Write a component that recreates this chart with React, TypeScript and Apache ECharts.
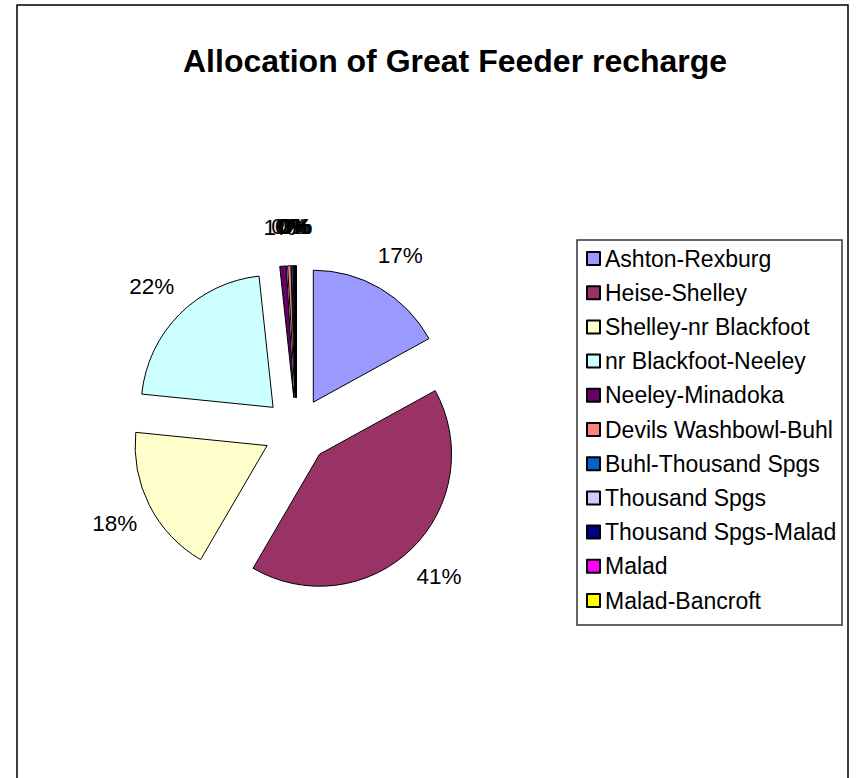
import React, { useEffect, useRef } from "react";
import * as echarts from "echarts";

const titleText = "Allocation of Great Feeder recharge";

const categories = [
  "Ashton-Rexburg",
  "Heise-Shelley",
  "Shelley-nr Blackfoot",
  "nr Blackfoot-Neeley",
  "Neeley-Minadoka",
  "Devils Washbowl-Buhl",
  "Buhl-Thousand Spgs",
  "Thousand Spgs",
  "Thousand Spgs-Malad",
  "Malad",
  "Malad-Bancroft",
];

// share of recharge (percent)
const values = [17.0, 41.4, 18.2, 21.7, 0.8, 0.4, 0.2, 0.1, 0.1, 0.05, 0.05];

const colors = [
  "#9999FF",
  "#993366",
  "#FFFFCC",
  "#CCFFFF",
  "#660066",
  "#FF8080",
  "#0066CC",
  "#CCCCFF",
  "#000080",
  "#FF00FF",
  "#FFFF00",
];

const FONT = "'Liberation Sans', Arial, Helvetica, sans-serif";

export default function App() {
  const ref = useRef<HTMLDivElement>(null);

  useEffect(() => {
    if (!ref.current) return;
    const chart = echarts.init(ref.current, undefined, { renderer: "svg" });

    const pieData = categories.map((name, i) => ({
      name,
      value: values[i],
      selected: true,
      itemStyle: { color: colors[i] },
    }));
    const labelData = categories.map((name, i) => ({
      name,
      value: values[i],
      selected: true,
    }));

    const center = [296.5, 430.6];

    chart.setOption({
      animation: false,
      backgroundColor: "#fff",
      title: {
        text: titleText,
        left: 183,
        top: 45,
        padding: 0,
        textStyle: {
          fontFamily: FONT,
          fontSize: 32,
          fontWeight: "bold",
          color: "#000",
        },
      },
      legend: {
        orient: "vertical",
        left: 586,
        top: 247,
        padding: 0,
        itemGap: 11.2,
        itemWidth: 13,
        itemHeight: 13,
        icon: "rect",
        selectedMode: false,
        data: categories,
        textStyle: {
          fontFamily: FONT,
          fontSize: 23,
          color: "#000",
        },
      },
      graphic: [
        {
          type: "rect",
          shape: { x: 17, y: 5, width: 831, height: 800 },
          style: { fill: "none", stroke: "#000", lineWidth: 1.5 },
          silent: true,
        },
        {
          type: "rect",
          shape: { x: 577, y: 240, width: 265, height: 385 },
          style: { fill: "none", stroke: "#333", lineWidth: 1.5 },
          silent: true,
        },
      ],
      series: [
        {
          type: "pie",
          center,
          radius: [0, 132],
          startAngle: 90,
          clockwise: true,
          selectedMode: "multiple",
          selectedOffset: 33,
          avoidLabelOverlap: false,
          silent: true,
          label: { show: false },
          labelLine: { show: false },
          itemStyle: { borderColor: "#000", borderWidth: 1 },
          select: { itemStyle: { borderColor: "#000", borderWidth: 1 } },
          emphasis: { disabled: true },
          data: pieData,
        },
        {
          type: "pie",
          center,
          radius: [150, 186],
          startAngle: 90,
          clockwise: true,
          selectedMode: "multiple",
          selectedOffset: 33,
          avoidLabelOverlap: false,
          silent: true,
          itemStyle: { color: "rgba(0,0,0,0)", borderWidth: 0 },
          select: { itemStyle: { color: "rgba(0,0,0,0)", borderWidth: 0 } },
          emphasis: { disabled: true },
          labelLine: { show: false },
          labelLayout: { hideOverlap: false, moveOverlap: null },
          label: {
            show: true,
            position: "inside",
            fontFamily: FONT,
            fontSize: 22.5,
            color: "#000",
            formatter: (p: any) => Math.round(p.percent) + "%",
          },
          data: labelData,
        },
      ],
    });

    return () => chart.dispose();
  }, []);

  return (
    <div
      ref={ref}
      style={{ position: "fixed", left: 0, top: 0, width: 856, height: 778 }}
    />
  );
}
